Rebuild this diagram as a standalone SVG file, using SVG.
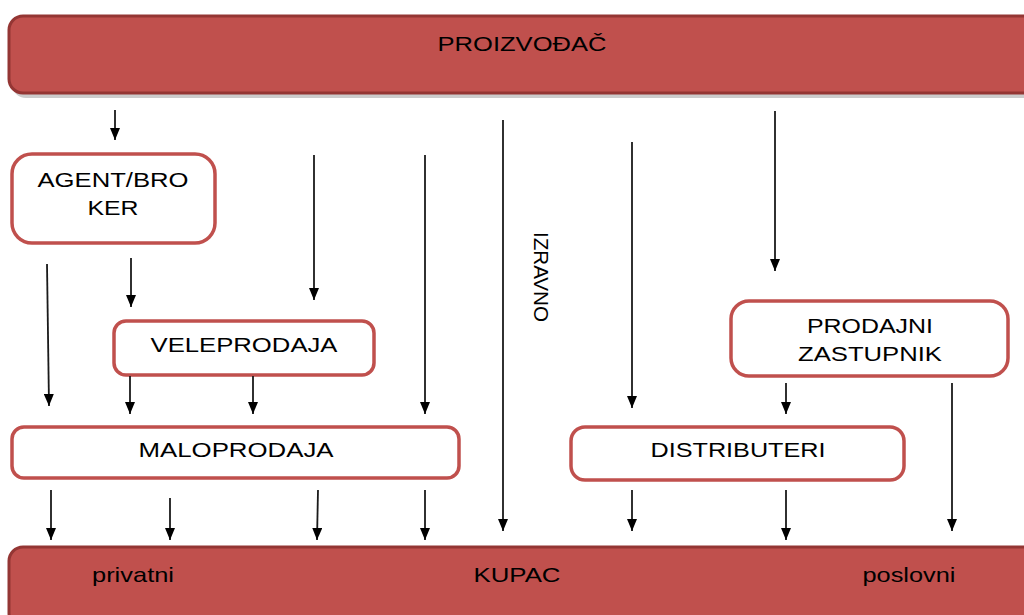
<svg xmlns="http://www.w3.org/2000/svg" width="1024" height="615" viewBox="0 0 1024 615">
<defs>
<style>
.bar{fill:#C0504D;stroke:#943634;stroke-width:3}
.shadow{fill:#9a9a9a;opacity:0.5}
.box{fill:#ffffff;stroke:#C0504D;stroke-width:3.5}
.t{font-family:"Liberation Sans",Arial,sans-serif;font-size:21px;fill:#000;text-anchor:middle}
.conn line{stroke:#1a1a1a;stroke-width:1.8;marker-end:url(#ah)}
</style>
<marker id="ah" viewBox="0 0 12 10" refX="12" refY="5" markerWidth="12" markerHeight="10" markerUnits="userSpaceOnUse" orient="auto">
<path d="M0,0 L12,5 L0,10 Z" fill="#000"/>
</marker>
</defs>
<rect width="1024" height="615" fill="#ffffff"/>
<g id="proizvodac">
<rect class="shadow" x="12" y="22" width="1030" height="76" rx="14"/>
<rect class="bar" x="9" y="16" width="1030" height="77" rx="14"/>
<text class="t" x="522" y="51" textLength="169" lengthAdjust="spacingAndGlyphs">PROIZVOĐAČ</text>
</g>
<g id="kupac">
<rect class="bar" x="9" y="547" width="1030" height="80" rx="14"/>
<text class="t" x="133" y="582" textLength="82" lengthAdjust="spacingAndGlyphs">privatni</text>
<text class="t" x="517" y="582" textLength="87" lengthAdjust="spacingAndGlyphs">KUPAC</text>
<text class="t" x="909" y="582" textLength="93" lengthAdjust="spacingAndGlyphs">poslovni</text>
</g>
<g id="agent">
<rect class="box" x="12" y="154" width="203" height="89" rx="20"/>
<text class="t" x="113" y="187" textLength="151" lengthAdjust="spacingAndGlyphs">AGENT/BRO</text>
<text class="t" x="113" y="215" textLength="51" lengthAdjust="spacingAndGlyphs">KER</text>
</g>
<g id="veleprodaja">
<rect class="box" x="114" y="321" width="260" height="54" rx="12"/>
<text class="t" x="244" y="352" textLength="187" lengthAdjust="spacingAndGlyphs">VELEPRODAJA</text>
</g>
<g id="maloprodaja">
<rect class="box" x="12" y="427" width="447" height="51" rx="12"/>
<text class="t" x="236" y="457" textLength="195" lengthAdjust="spacingAndGlyphs">MALOPRODAJA</text>
</g>
<g id="distributeri">
<rect class="box" x="571" y="427" width="333" height="53" rx="14"/>
<text class="t" x="738" y="457" textLength="175" lengthAdjust="spacingAndGlyphs">DISTRIBUTERI</text>
</g>
<g id="zastupnik">
<rect class="box" x="731" y="301" width="277" height="75" rx="18"/>
<text class="t" x="870" y="333" textLength="126" lengthAdjust="spacingAndGlyphs">PRODAJNI</text>
<text class="t" x="870" y="361" textLength="144" lengthAdjust="spacingAndGlyphs">ZASTUPNIK</text>
</g>
<g id="izravno">
<text class="t" x="0" y="0" transform="translate(534,277) rotate(90)" textLength="90" lengthAdjust="spacingAndGlyphs">IZRAVNO</text>
</g>
<g id="connectors" class="conn">
<line x1="115" y1="110" x2="115" y2="140"/>
<line x1="47" y1="264" x2="49" y2="406"/>
<line x1="131" y1="258" x2="131" y2="307"/>
<line x1="314" y1="155" x2="314" y2="300"/>
<line x1="425" y1="155" x2="425" y2="414"/>
<line x1="503" y1="120" x2="503" y2="531"/>
<line x1="632" y1="142" x2="632" y2="408"/>
<line x1="775" y1="111" x2="775" y2="271"/>
<line x1="130" y1="376" x2="130" y2="414"/>
<line x1="253" y1="376" x2="253" y2="414"/>
<line x1="786" y1="383" x2="786" y2="414"/>
<line x1="952" y1="383" x2="952" y2="531"/>
<line x1="51" y1="490" x2="51" y2="540"/>
<line x1="170" y1="498" x2="170" y2="540"/>
<line x1="318" y1="490" x2="317" y2="540"/>
<line x1="425" y1="490" x2="425" y2="540"/>
<line x1="632" y1="490" x2="632" y2="531"/>
<line x1="786" y1="490" x2="786" y2="540"/>
</g>
</svg>
